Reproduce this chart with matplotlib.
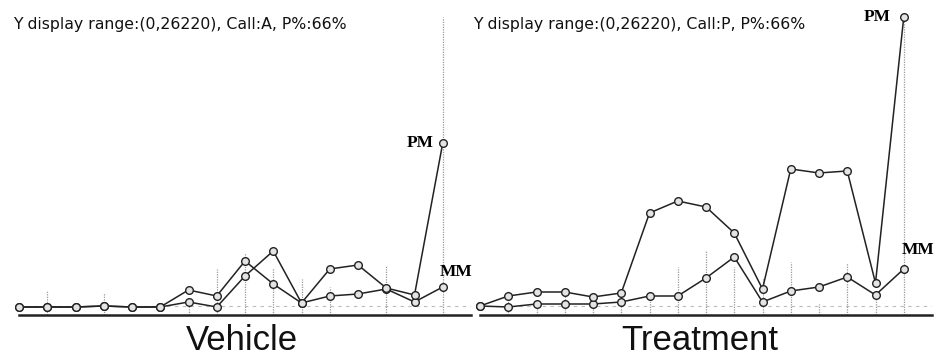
import matplotlib
matplotlib.use("Agg")
import matplotlib.pyplot as plt
import numpy as np

# ---- data ----
probes = list(range(16))
ymax = 26220

vehicle_pm = [704, 704, 704, 792, 704, 704, 2200, 1672, 4752, 2728, 1056, 4048, 4400, 2376, 1760, 15136]
vehicle_mm = [704, 704, 704, 792, 704, 704, 1144, 704, 3432, 5632, 1056, 1672, 1848, 2288, 1144, 2464]
vehicle_bars = [0, 2200, 0, 1936, 0, 0, 1100, 4048, 5456, 4136, 3168, 2464, 0, 4400, 0, 26220]

treat_pm = [792, 1672, 2024, 2024, 1584, 1936, 8976, 10032, 9504, 7216, 2288, 12848, 12496, 12672, 2816, 26200]
treat_mm = [792, 704, 968, 968, 968, 1144, 1672, 1672, 3256, 5104, 1144, 2112, 2464, 3344, 1760, 4048]
treat_bars = [0, 2200, 1000, 2400, 1500, 1000, 2000, 4224, 5632, 4224, 3256, 4664, 1000, 4576, 2000, 26220]

background_level = 750

titles = ["Y display range:(0,26220), Call:A, P%:66%",
          "Y display range:(0,26220), Call:P, P%:66%"]
conditions = ["Vehicle", "Treatment"]

W, H = 936, 356
fig = plt.figure(figsize=(W / 100, H / 100), dpi=100)

def px_axes(x0, x1, ytop, ybot):
    return fig.add_axes([x0 / W, (H - ybot) / H, (x1 - x0) / W, (ybot - ytop) / H])

panels = [
    dict(ax=px_axes(19, 471, 17, 315), pm=vehicle_pm, mm=vehicle_mm, bars=vehicle_bars,
         title_x=13, cond_x=242, pm_off=(-9, 0), mm_off=(-3, 15)),
    dict(ax=px_axes(480, 932, 17, 315), pm=treat_pm, mm=treat_mm, bars=treat_bars,
         title_x=473, cond_x=700, pm_off=(-13, 0), mm_off=(-2, 19)),
]

for i, p in enumerate(panels):
    ax = p["ax"]
    ax.set_xlim(0, 16)
    ax.set_ylim(0, ymax)
    for s in ["top", "left", "right"]:
        ax.spines[s].set_visible(False)
    ax.spines["bottom"].set_linewidth(1.8)
    ax.spines["bottom"].set_color("#222222")
    ax.set_xticks([])
    ax.set_yticks([])
    ax.patch.set_alpha(0)

    # vertical dotted probe lines
    ax.vlines(probes, 0, p["bars"], colors="#999999", linestyles=(0, (1, 1)), linewidth=0.9, zorder=1)
    # background dashed line
    ax.axhline(background_level, color="#bbbbbb", linestyle=(0, (3, 4)), linewidth=0.8, zorder=1)

    for series in (p["mm"], p["pm"]):
        ax.plot(probes, series, color="#222222", linewidth=1.1, marker="o", markersize=5.5,
                markerfacecolor="#e4e4e4", markeredgecolor="#222222", markeredgewidth=1.0,
                clip_on=False, zorder=3)

    ax.annotate("PM", xy=(probes[-1], p["pm"][-1]), xytext=p["pm_off"], textcoords="offset pixels",
                ha="right", va="center", fontsize=12.5, fontweight="bold", family="Liberation Serif",
                annotation_clip=False)
    ax.annotate("MM", xy=(probes[-1], p["mm"][-1]), xytext=p["mm_off"], textcoords="offset pixels",
                ha="left", va="center", fontsize=12.5, fontweight="bold", family="Liberation Serif",
                annotation_clip=False)

    fig.text(p["title_x"] / W, 1 - 25 / H, titles[i], ha="left", va="center",
             fontsize=11.3, family="DejaVu Sans", color="#111111")
    fig.text(p["cond_x"] / W, 1 - 341 / H, conditions[i], ha="center", va="center",
             fontsize=25, family="Liberation Sans", color="#111111")

fig.savefig("out.png", dpi=100, facecolor="white")
